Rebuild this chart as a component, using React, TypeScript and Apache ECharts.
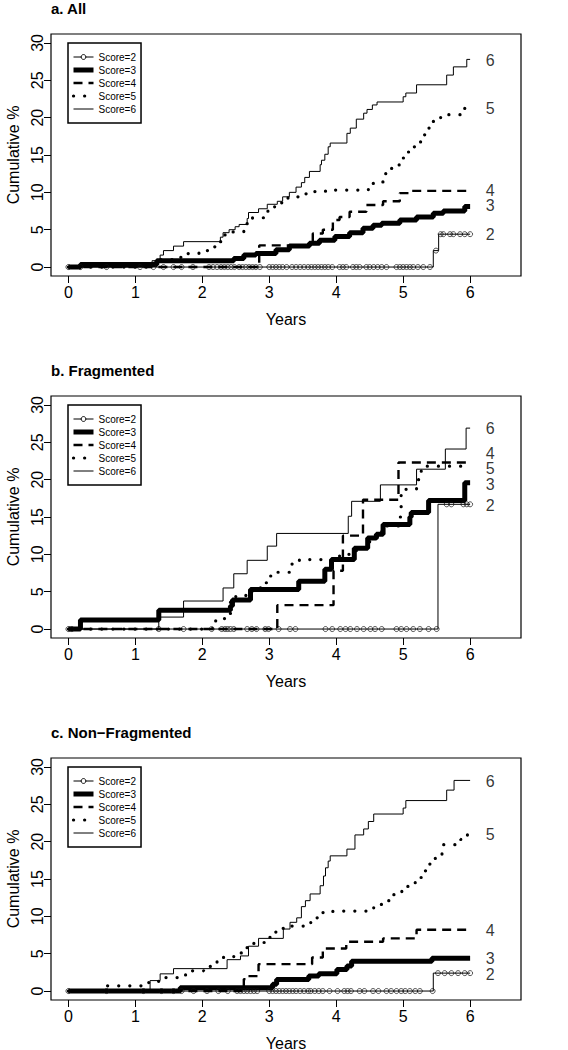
import React, { useEffect, useRef } from 'react';
import * as echarts from 'echarts';

const FONT = "'Liberation Sans', Arial, Helvetica, sans-serif";

const scoreNames = ['Score=2', 'Score=3', 'Score=4', 'Score=5', 'Score=6'];
const curveTags = ['2', '3', '4', '5', '6'];
const yearTicks = [0, 1, 2, 3, 4, 5, 6];
const pctTicks = [0, 5, 10, 15, 20, 25, 30];
const panelTitles = ['a. All', 'b. Fragmented', 'c. Non\u2212Fragmented'];
const tagYear = 6.3;

type Pt = [number, number];

// ---------- Panel a: All ----------
const a2: Pt[] = [[0, 0], [5.45, 2.2], [5.53, 4.4], [6.0, 4.4]];
const a3: Pt[] = [[0, 0], [0.18, 0.35], [1.32, 0.85], [2.47, 1.15], [2.62, 1.6], [2.8, 1.8], [3.1, 2.3], [3.3, 2.8], [3.6, 3.2], [3.75, 3.6], [3.98, 4.1], [4.2, 4.6], [4.4, 5.2], [4.55, 5.6], [4.68, 5.85], [4.95, 6.3], [5.2, 6.7], [5.45, 7.2], [5.6, 7.5], [5.92, 8.1], [6.0, 8.1]];
const a4: Pt[] = [[0, 0], [2.85, 2.9], [3.65, 4.5], [3.8, 5.0], [3.95, 6.3], [4.05, 6.7], [4.2, 7.4], [4.45, 8.3], [4.7, 8.8], [4.95, 9.9], [5.1, 10.2], [6.0, 10.2]];
const a5: Pt[] = [[0, 0], [1.25, 0.5], [1.37, 1.0], [1.55, 1.3], [1.75, 1.8], [1.95, 2.2], [2.08, 2.7], [2.2, 3.4], [2.32, 4.3], [2.45, 4.7], [2.62, 5.8], [2.75, 6.6], [2.98, 7.6], [3.08, 8.6], [3.28, 9.4], [3.48, 9.8], [3.68, 10.1], [3.84, 10.3], [4.48, 11.2], [4.58, 11.4], [4.74, 13.2], [4.94, 14.6], [5.02, 15.4], [5.13, 16.1], [5.26, 17.7], [5.38, 18.6], [5.44, 19.5], [5.56, 20.1], [5.66, 20.4], [5.92, 21.4], [6.0, 21.4]];
const a6: Pt[] = [[0, 0], [1.25, 0.85], [1.37, 1.6], [1.42, 2.2], [1.57, 2.8], [1.72, 3.4], [2.27, 4.0], [2.31, 4.6], [2.4, 5.0], [2.49, 5.4], [2.55, 5.7], [2.67, 6.5], [2.69, 7.3], [2.84, 7.8], [2.97, 8.4], [3.12, 8.8], [3.2, 9.4], [3.3, 10.0], [3.4, 10.7], [3.48, 11.3], [3.53, 12.0], [3.6, 12.8], [3.76, 13.7], [3.78, 14.3], [3.83, 15.1], [3.88, 16.1], [3.91, 16.6], [4.16, 17.9], [4.21, 18.6], [4.3, 19.8], [4.41, 20.6], [4.46, 21.1], [4.54, 21.7], [4.61, 22.1], [5.0, 22.8], [5.04, 23.3], [5.2, 24.4], [5.65, 25.7], [5.75, 26.8], [5.95, 27.8], [6.0, 27.8]];
const a2Censor = [0, 0.18, 0.57, 1.07, 1.27, 1.42, 1.57, 1.69, 1.86, 2.1, 2.16, 2.22, 2.28, 2.33, 2.38, 2.43, 2.48, 2.55, 2.6, 2.65, 2.7, 2.75, 2.8, 2.86, 3.0, 3.05, 3.1, 3.15, 3.2, 3.26, 3.34, 3.4, 3.46, 3.52, 3.58, 3.63, 3.68, 3.73, 3.78, 3.83, 3.88, 3.94, 4.05, 4.1, 4.15, 4.25, 4.3, 4.35, 4.45, 4.5, 4.56, 4.62, 4.68, 4.75, 4.9, 4.95, 5.0, 5.05, 5.1, 5.15, 5.22, 5.3, 5.4, 5.49, 5.56, 5.6, 5.7, 5.75, 5.85, 5.92, 6.0];
const aTagY = [4.3, 8.2, 10.2, 21.2, 27.6];

// ---------- Panel b: Fragmented ----------
const b2: Pt[] = [[0, 0], [5.52, 16.7], [6.0, 16.7]];
const b3: Pt[] = [[0, 0], [0.18, 1.2], [1.35, 2.5], [2.42, 3.1], [2.45, 3.9], [2.72, 5.3], [3.44, 6.4], [3.83, 8.0], [3.93, 9.3], [4.27, 10.8], [4.47, 12.2], [4.6, 12.7], [4.7, 14.0], [5.1, 15.0], [5.12, 15.6], [5.38, 17.2], [5.92, 19.6], [6.0, 19.6]];
const b4: Pt[] = [[0, 0], [3.12, 3.2], [3.96, 7.8], [4.1, 12.5], [4.4, 17.3], [4.93, 22.3], [6.0, 22.3]];
const b5: Pt[] = [[0, 0], [2.15, 0.6], [2.2, 1.4], [2.35, 1.6], [2.42, 3.8], [2.5, 4.4], [2.65, 5.1], [2.8, 5.5], [2.92, 6.2], [3.0, 7.1], [3.12, 7.6], [3.32, 8.7], [3.45, 9.3], [4.05, 10.0], [4.3, 10.9], [4.5, 12.2], [4.68, 13.8], [4.95, 15.0], [4.97, 18.7], [5.2, 20.0], [5.27, 21.4], [5.35, 21.8], [6.0, 21.8]];
const b6: Pt[] = [[0, 0], [1.35, 1.6], [1.72, 3.75], [2.31, 5.5], [2.47, 7.4], [2.67, 9.2], [2.97, 11.1], [3.11, 12.8], [4.18, 15.1], [4.23, 17.1], [4.66, 19.3], [5.2, 21.4], [5.63, 24.1], [5.94, 26.9], [6.0, 26.9]];
const b2Censor = [0, 0.05, 1.35, 1.72, 2.14, 2.29, 2.34, 2.38, 2.42, 2.47, 2.67, 2.74, 2.81, 2.94, 2.99, 3.14, 3.31, 3.39, 3.84, 3.94, 4.06, 4.14, 4.21, 4.31, 4.41, 4.51, 4.58, 4.68, 4.9, 4.97, 5.05, 5.15, 5.25, 5.38, 5.5, 5.65, 5.72, 5.9, 5.95, 6.0];
const bTagY = [16.6, 19.4, 23.5, 21.45, 26.9];

// ---------- Panel c: Non-Fragmented ----------
const c2: Pt[] = [[0, 0], [5.45, 2.4], [6.0, 2.4]];
const c3: Pt[] = [[0, 0], [1.67, 0.45], [3.05, 0.9], [3.11, 1.55], [3.59, 2.0], [3.74, 2.3], [4.01, 2.9], [4.16, 3.35], [4.23, 4.0], [5.43, 4.4], [6.0, 4.4]];
const c4: Pt[] = [[0, 0], [2.62, 1.6], [2.67, 2.0], [2.84, 3.6], [3.64, 4.5], [3.8, 5.7], [4.15, 6.6], [4.7, 7.05], [5.2, 8.2], [6.0, 8.2]];
const c5: Pt[] = [[0, 0], [0.55, 0.7], [1.2, 1.3], [1.35, 1.8], [1.75, 2.7], [2.02, 3.3], [2.22, 4.5], [2.47, 5.1], [2.6, 5.8], [2.77, 6.5], [2.95, 7.2], [3.07, 7.9], [3.19, 8.4], [3.34, 8.7], [3.62, 9.8], [3.79, 10.5], [3.95, 10.7], [4.56, 11.6], [4.69, 12.1], [4.84, 12.9], [4.98, 14.0], [5.18, 15.2], [5.28, 16.1], [5.38, 17.0], [5.48, 18.3], [5.58, 19.6], [5.86, 20.3], [5.96, 21.0], [6.0, 21.0]];
const c6: Pt[] = [[0, 0], [1.22, 1.4], [1.37, 2.3], [1.57, 3.0], [2.37, 4.2], [2.57, 4.7], [2.69, 6.0], [2.84, 7.05], [3.21, 8.3], [3.31, 9.2], [3.41, 9.8], [3.48, 11.3], [3.54, 12.1], [3.61, 13.0], [3.76, 14.1], [3.81, 15.4], [3.84, 16.5], [3.88, 17.4], [3.91, 18.1], [4.16, 19.0], [4.28, 20.9], [4.41, 21.7], [4.48, 22.7], [4.56, 23.7], [5.0, 24.5], [5.04, 25.5], [5.65, 26.9], [5.76, 28.2], [6.0, 28.2]];
const c2Censor = [0, 0.57, 1.12, 1.39, 1.57, 1.69, 1.87, 2.07, 2.24, 2.38, 2.52, 2.57, 2.62, 2.67, 2.72, 2.77, 2.82, 3.0, 3.05, 3.1, 3.15, 3.2, 3.25, 3.3, 3.35, 3.4, 3.46, 3.52, 3.58, 3.62, 3.68, 3.74, 3.8, 3.9, 4.02, 4.12, 4.17, 4.22, 4.35, 4.42, 4.55, 4.63, 4.75, 4.82, 4.9, 4.97, 5.03, 5.1, 5.18, 5.25, 5.44, 5.52, 5.62, 5.72, 5.82, 5.92, 6.0];
const cTagY = [2.2, 4.4, 8.1, 20.9, 28.1];

const panels = [
  { curves: [a2, a3, a4, a5, a6], censor: a2Censor, tags: aTagY },
  { curves: [b2, b3, b4, b5, b6], censor: b2Censor, tags: bTagY },
  { curves: [c2, c3, c4, c5, c6], censor: c2Censor, tags: cTagY },
];

const lineStyles: any[] = [
  { width: 1, type: 'solid' },
  { width: 5, type: 'solid' },
  { width: 2.4, type: [9, 6] },
  { width: 3.2, type: [0.1, 11], cap: 'round' },
  { width: 1, type: 'solid' },
];

function stepValue(steps: Pt[], t: number): number {
  let v = 0;
  for (const [x, y] of steps) {
    if (x <= t) v = y;
    else break;
  }
  return v;
}

const PANEL_STEP = 362;
const GRID_LEFT = 51;
const GRID_TOP = 34;
const GRID_W = 470;
const GRID_H = 242;

function buildOption(): any {
  const grid: any[] = [];
  const xAxis: any[] = [];
  const yAxis: any[] = [];
  const series: any[] = [];
  const title: any[] = [];
  const legend: any[] = [];
  const axisText = { color: '#000', fontSize: 16, fontFamily: FONT };

  panels.forEach((panel, p) => {
    const off = p * PANEL_STEP;
    grid.push({
      left: GRID_LEFT, top: GRID_TOP + off, width: GRID_W, height: GRID_H,
      containLabel: false, outerBoundsMode: 'none',
      show: true, borderColor: '#000', borderWidth: 1.2, backgroundColor: 'transparent',
    });
    title.push({
      text: panelTitles[p], left: GRID_LEFT, top: 1 + off, padding: 0,
      textStyle: { fontSize: 15, fontWeight: 'bold', color: '#000', fontFamily: FONT },
    });
    xAxis.push({
      type: 'value', gridIndex: p, min: -0.26, max: 6.76,
      axisLine: { show: false, onZero: false },
      axisTick: { show: true, customValues: yearTicks, length: 7, lineStyle: { color: '#000', width: 1 } },
      axisLabel: { customValues: yearTicks, margin: 8, ...axisText },
      splitLine: { show: false },
      name: 'Years', nameLocation: 'middle', nameGap: 35, nameTextStyle: axisText,
    });
    yAxis.push({
      type: 'value', gridIndex: p, min: -1.2, max: 31.2,
      axisLine: { show: false, onZero: false },
      axisTick: { show: true, customValues: pctTicks, length: 7, lineStyle: { color: '#000', width: 1 } },
      axisLabel: { customValues: pctTicks, rotate: 90, margin: 6, ...axisText },
      splitLine: { show: false },
      name: 'Cumulative %', nameLocation: 'middle', nameGap: 30, nameRotate: 90, nameTextStyle: axisText,
    });
    legend.push({
      orient: 'vertical', left: 68, top: 43 + off,
      padding: [9, 5, 9, 3], itemGap: 3, itemWidth: 20, itemHeight: 6,
      borderColor: '#000', borderWidth: 1.5, backgroundColor: '#fff',
      selectedMode: false,
      textStyle: { color: '#000', fontSize: 10, fontFamily: FONT },
      itemStyle: { opacity: 0 },
      data: scoreNames.map((n, i) => ({
        name: n,
        lineStyle: { color: '#000', ...lineStyles[i] },
        itemStyle: i === 0
          ? { opacity: 1, color: '#fff', borderColor: '#000', borderWidth: 1 }
          : { opacity: 0 },
      })),
    });

    panel.curves.forEach((steps, i) => {
      series.push({
        type: 'line', name: scoreNames[i], xAxisIndex: p, yAxisIndex: p,
        data: steps, step: 'end',
        symbol: i === 0 ? 'circle' : 'none', showSymbol: false,
        lineStyle: { color: '#000', ...lineStyles[i] },
        itemStyle: { color: '#000' },
        silent: true, z: 2 + i,
        emphasis: { disabled: true },
      });
    });

    series.push({
      type: 'scatter', name: 'censored', xAxisIndex: p, yAxisIndex: p,
      data: panel.censor.map((t) => [t, stepValue(panel.curves[0], t)]),
      symbol: 'circle', symbolSize: 5,
      itemStyle: { color: 'rgba(255,255,255,0)', borderColor: '#111', borderWidth: 0.9 },
      silent: true, z: 3,
    });

    series.push({
      type: 'scatter', name: 'tags', xAxisIndex: p, yAxisIndex: p,
      data: panel.tags.map((y, i) => ({ name: curveTags[i], value: [tagYear, y] })),
      symbol: 'circle', symbolSize: 0,
      label: {
        show: true, formatter: '{b}', position: 'inside', color: '#000',
        fontSize: 16, lineHeight: 12, fontFamily: FONT,
      },
      silent: true, z: 10,
    });
  });

  return { animation: false, backgroundColor: '#fff', title, grid, xAxis, yAxis, legend, series };
}

export default function App() {
  const ref = useRef<HTMLDivElement>(null);
  useEffect(() => {
    if (!ref.current) return;
    const chart = echarts.init(ref.current, null, { renderer: 'svg' });
    chart.setOption(buildOption());
    return () => chart.dispose();
  }, []);
  return (
    <div
      ref={ref}
      style={{ position: 'absolute', left: 0, top: 0, width: 568, height: 1050, background: '#fff' }}
    />
  );
}
